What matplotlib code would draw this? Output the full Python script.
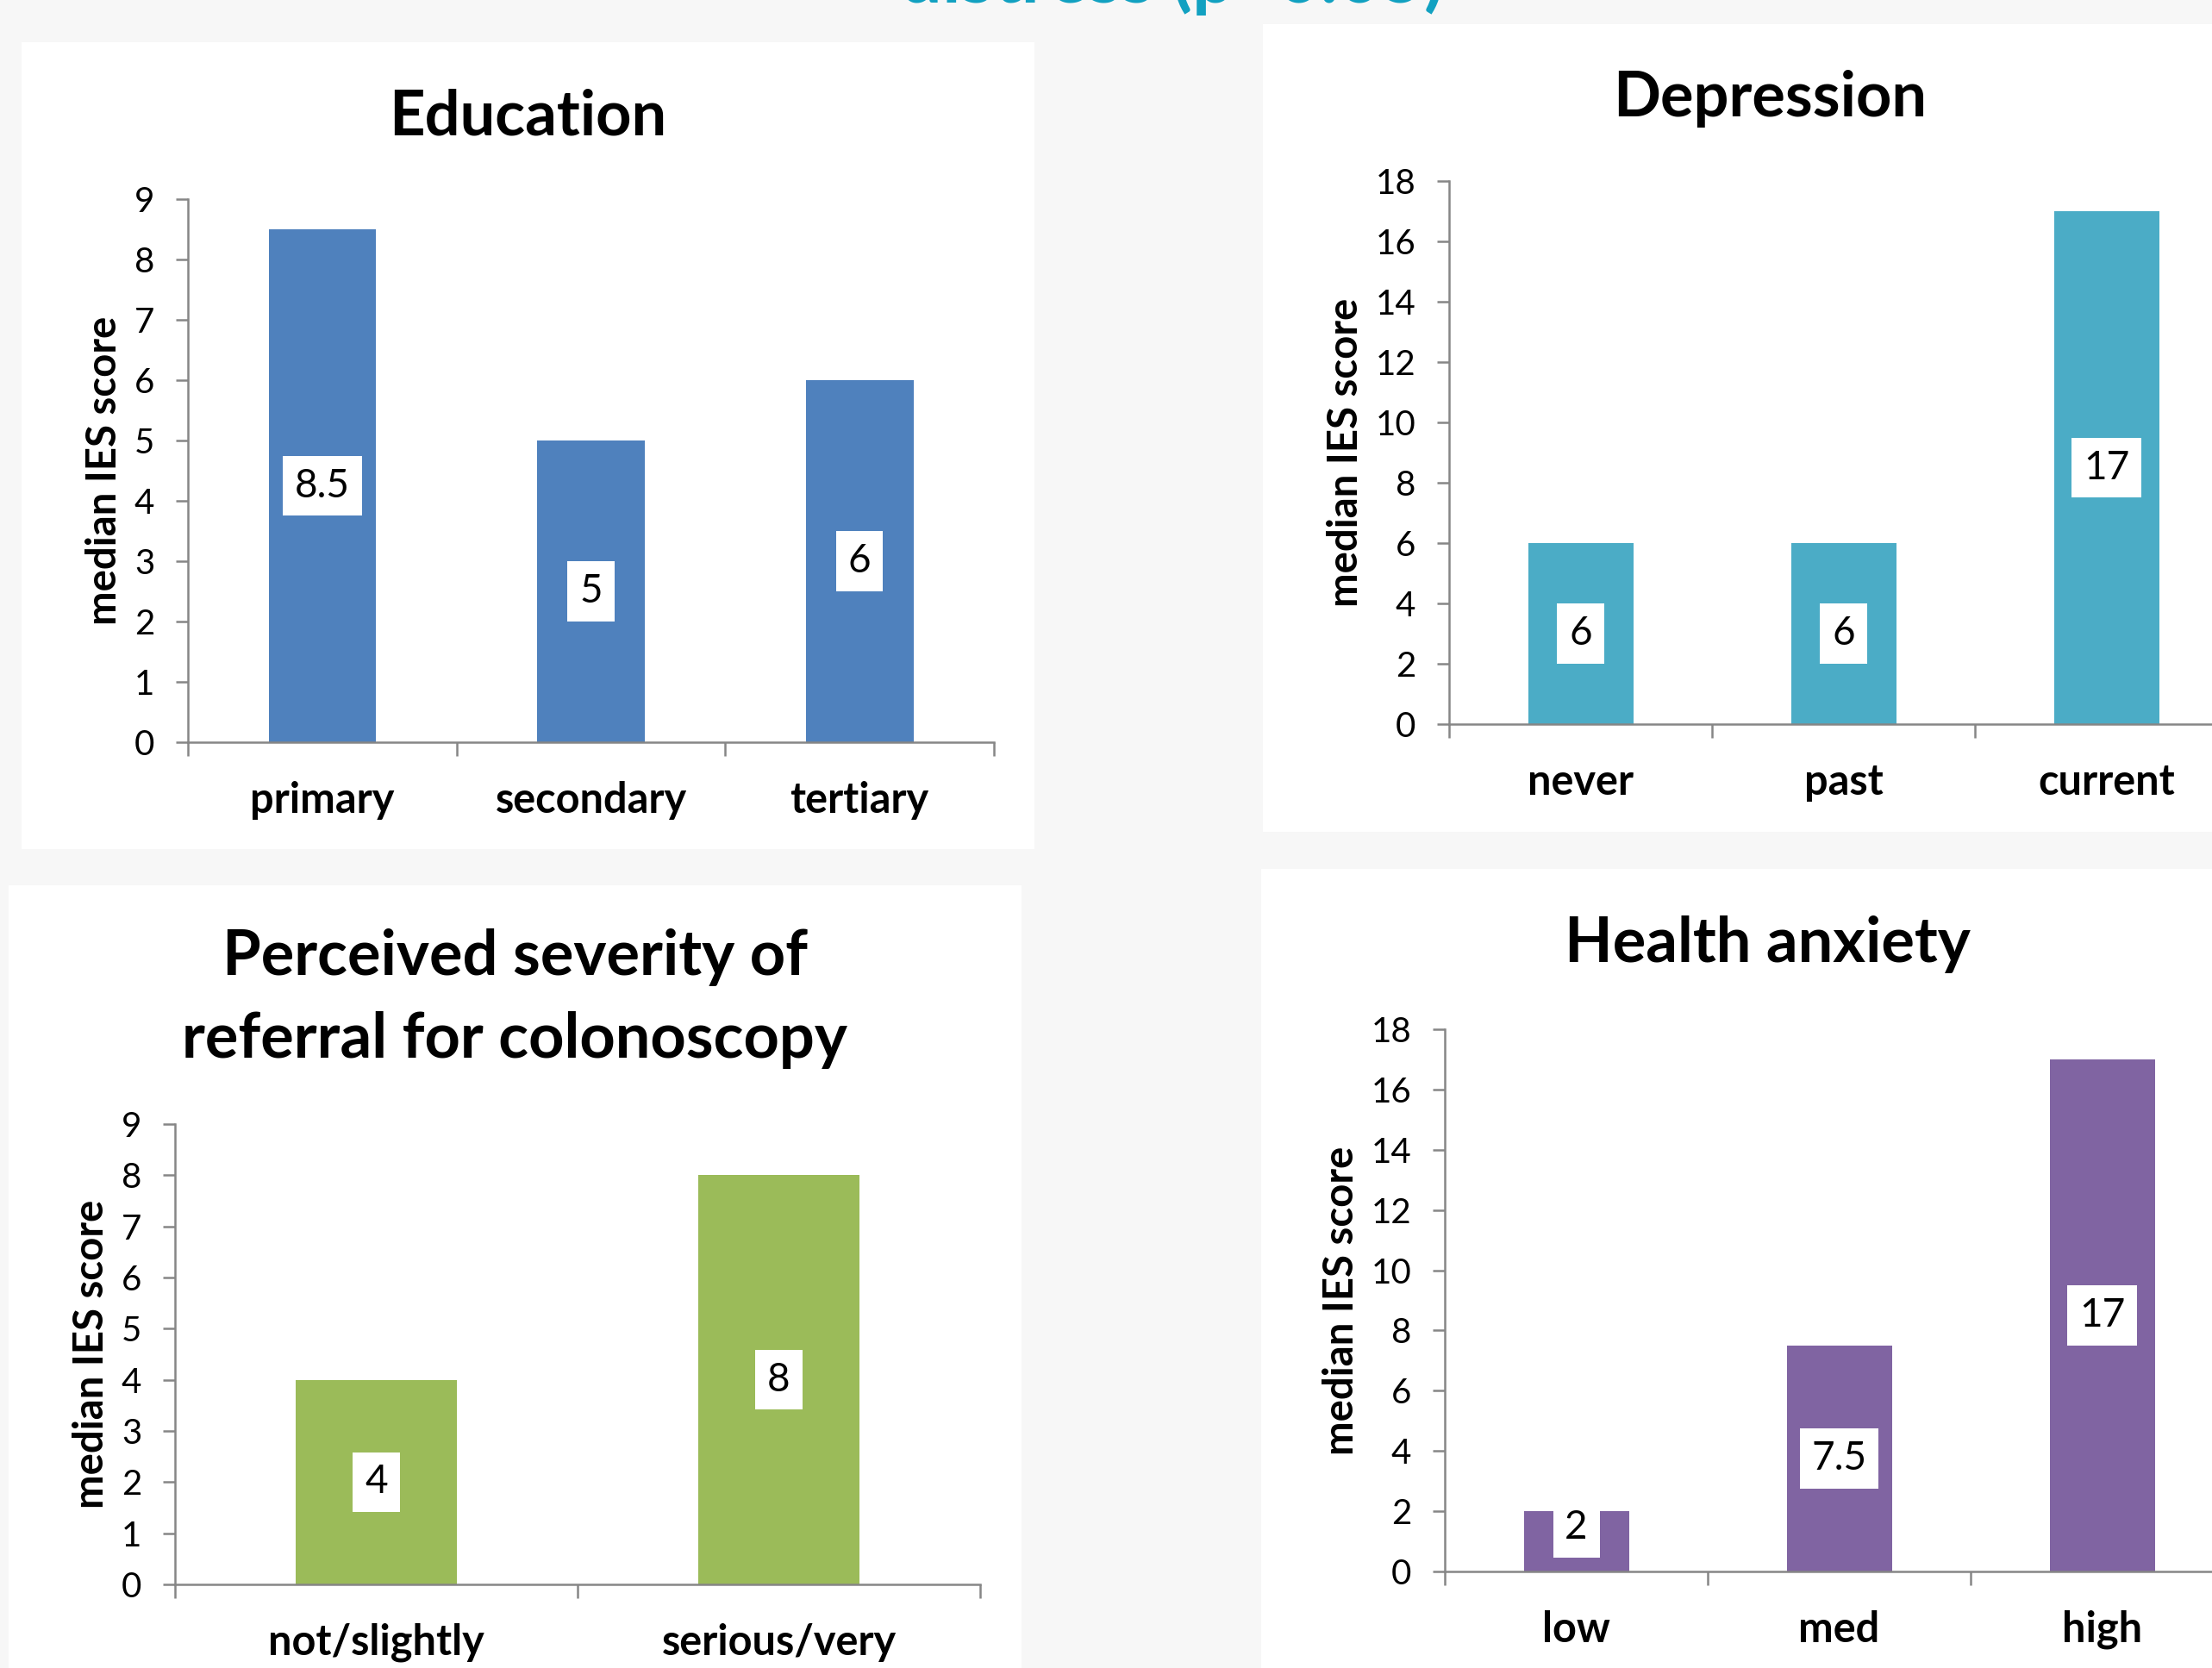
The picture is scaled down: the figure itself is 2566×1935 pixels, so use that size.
import matplotlib
matplotlib.use('Agg')
import matplotlib.pyplot as plt
from matplotlib.patches import Rectangle

W, H = 2566, 1935
DPI = 100
plt.rcParams['font.family'] = ['Lato', 'DejaVu Sans']

# ---- data ----
edu_cats = ['primary', 'secondary', 'tertiary']
edu_vals = [8.5, 5, 6]
dep_cats = ['never', 'past', 'current']
dep_vals = [6, 6, 17]
sev_cats = ['not/slightly', 'serious/very']
sev_vals = [4, 8]
anx_cats = ['low', 'med', 'high']
anx_vals = [2, 7.5, 17]
ticks_9 = list(range(0, 10))
ticks_18 = list(range(0, 19, 2))

AXIS_GRAY = '#868686'

fig = plt.figure(figsize=(W / DPI, H / DPI), dpi=DPI, facecolor='#f7f7f7')

# white panels (pixel coords, top-left origin)
panels = [(25, 49, 1200, 985), (1465, 28, 2575, 965),
          (10, 1027, 1185, 1945), (1463, 1008, 2575, 1945)]
for (x0, y0, x1, y1) in panels:
    fig.patches.append(Rectangle((x0 / W, 1 - y1 / H), (x1 - x0) / W, (y1 - y0) / H,
                                 transform=fig.transFigure, facecolor='white',
                                 edgecolor='none', zorder=-5))


def make_axes(pl, pr, py0, pytop, cats, vals, ticks, color, ymax, title_lines):
    ax = fig.add_axes([pl / W, 1 - py0 / H, (pr - pl) / W, (py0 - pytop) / H])
    ax.patch.set_visible(False)
    x = list(range(len(cats)))
    ax.bar(x, vals, width=0.4, color=color, zorder=2)
    ax.set_xlim(-0.5, len(cats) - 0.5)
    ax.set_ylim(0, ymax)
    ax.set_yticks(ticks)
    ax.set_xticks(x)
    ax.set_xticklabels(cats, fontsize=35, fontweight='bold')
    ax.set_xticks([i - 0.5 for i in range(len(cats) + 1)], minor=True)
    ax.tick_params(axis='x', which='major', length=0, pad=59)
    ax.tick_params(axis='x', which='minor', length=11.5, width=1.8, color=AXIS_GRAY)
    ax.tick_params(axis='y', length=10, width=1.8, color=AXIS_GRAY, pad=18, labelsize=29)
    for lab in ax.get_xticklabels():
        lab.set_verticalalignment('baseline')
    for s in ['top', 'right']:
        ax.spines[s].set_visible(False)
    for s in ['left', 'bottom']:
        ax.spines[s].set_color(AXIS_GRAY)
        ax.spines[s].set_linewidth(1.8)
    ax.set_ylabel('median IES score', fontsize=34, fontweight='bold', labelpad=9)
    ppu = (py0 - pytop) / ymax
    minc = 51 / ppu
    for i, v in enumerate(vals):
        ax.text(i, max(v / 2, minc), f'{v:g}', ha='center', va='center', fontsize=33,
                bbox=dict(boxstyle='square,pad=0.3', fc='white', ec='none'), zorder=3)
    for (tx, ty, t) in title_lines:
        fig.text(tx / W, 1 - ty / H, t, ha='center', va='baseline', fontsize=52,
                 fontweight='bold', color='black')
    return ax


make_axes(218, 1153, 861, 231, edu_cats, edu_vals, ticks_9, '#4F81BD', 9,
          [(612, 156, 'Education')])
make_axes(1681, 2596, 840, 210, dep_cats, dep_vals, ticks_18, '#4BACC6', 18,
          [(2053, 135, 'Depression')])
make_axes(203, 1137, 1838, 1304, sev_cats, sev_vals, ticks_9, '#9BBB59', 9,
          [(598, 1131, 'Perceived severity of'), (597, 1227, 'referral for colonoscopy')])
make_axes(1676, 2591, 1823, 1194, anx_cats, anx_vals, ticks_18, '#8064A2', 18,
          [(2050, 1116, 'Health anxiety')])

# slide title (mostly cut off at the top edge, as in the original slide)
fig.text(1360 / W, 1 - 3 / H, 'distress (p<0.05)', ha='center', va='baseline',
         fontsize=62, fontweight='bold', color='#12A1C1')

fig.savefig('out.png', dpi=DPI, facecolor=fig.get_facecolor())
